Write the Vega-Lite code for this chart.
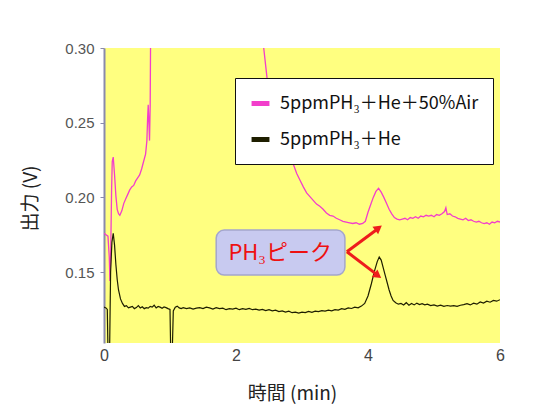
{
  "$schema": "https://vega.github.io/schema/vega-lite/v6.json",
  "width": 396,
  "height": 295,
  "autosize": "none",
  "padding": {"left": 104, "top": 48, "right": 49, "bottom": 71},
  "background": "white",
  "config": {
    "view": {"fill": "#ffff80", "stroke": null},
    "font": "Liberation Sans"
  },
  "datasets": {
    "air": [
      [0,0.176],[0.03,0.175],[0.06,0.174],[0.08,0.16],[0.09,0.144],[0.1,0.158],[0.115,0.205],[0.125,0.224],[0.14,0.227],[0.16,0.215],[0.18,0.201],[0.2,0.192],[0.22,0.189],[0.24,0.188],[0.27,0.191],[0.3,0.196],[0.33,0.199],[0.36,0.202],[0.39,0.205],[0.42,0.207],[0.45,0.208],[0.48,0.211],[0.51,0.213],[0.54,0.215],[0.57,0.219],[0.6,0.224],[0.63,0.229],[0.65,0.238],[0.66,0.252],[0.67,0.262],[0.68,0.25],[0.69,0.238],[0.7,0.262],[0.705,0.3],[0.71,0.33],[2.4,0.33],[2.42,0.3],[2.45,0.288],[2.47,0.28],[2.55,0.265],[2.65,0.25],[2.75,0.237],[2.82,0.229],[2.87,0.222],[2.92,0.216],[2.97,0.2115],[3.02,0.207],[3.07,0.203],[3.12,0.2005],[3.17,0.198],[3.22,0.1955],[3.27,0.194],[3.32,0.192],[3.37,0.1895],[3.42,0.188],[3.47,0.1875],[3.52,0.186],[3.57,0.185],[3.62,0.184],[3.67,0.1835],[3.72,0.183],[3.77,0.1825],[3.82,0.183],[3.87,0.182],[3.92,0.1825],[3.96,0.184],[4.0,0.19],[4.04,0.195],[4.08,0.2],[4.12,0.204],[4.16,0.206],[4.2,0.2035],[4.24,0.2],[4.28,0.196],[4.32,0.192],[4.36,0.189],[4.4,0.1865],[4.44,0.1855],[4.48,0.185],[4.52,0.1855],[4.56,0.186],[4.6,0.185],[4.64,0.1865],[4.68,0.186],[4.72,0.187],[4.76,0.186],[4.8,0.1875],[4.84,0.187],[4.88,0.188],[4.92,0.1875],[4.96,0.188],[5.0,0.187],[5.04,0.1885],[5.08,0.188],[5.12,0.189],[5.16,0.1905],[5.18,0.193],[5.2,0.1885],[5.24,0.189],[5.28,0.1875],[5.32,0.187],[5.36,0.186],[5.4,0.1855],[5.44,0.185],[5.48,0.186],[5.52,0.1845],[5.56,0.185],[5.6,0.184],[5.64,0.1835],[5.68,0.184],[5.72,0.183],[5.76,0.1825],[5.8,0.183],[5.84,0.182],[5.88,0.1835],[5.92,0.183],[5.96,0.184],[6.0,0.1835]
    ],
    "he": [
      [0,0.1265],[0.03,0.126],[0.05,0.125],[0.06,0.098],[0.085,0.098],[0.1,0.15],[0.12,0.17],[0.14,0.176],[0.16,0.168],[0.18,0.155],[0.2,0.145],[0.22,0.138],[0.25,0.132],[0.28,0.129],[0.31,0.127],[0.34,0.1275],[0.37,0.126],[0.4,0.1265],[0.43,0.127],[0.46,0.1255],[0.49,0.1262],[0.52,0.1275],[0.55,0.126],[0.58,0.1268],[0.61,0.1255],[0.64,0.1262],[0.67,0.1258],[0.7,0.127],[0.73,0.1265],[0.76,0.1278],[0.79,0.126],[0.82,0.127],[0.85,0.1265],[0.88,0.1258],[0.91,0.1266],[0.94,0.1262],[0.97,0.1255],[1.0,0.125],[1.01,0.098],[1.035,0.098],[1.05,0.124],[1.08,0.1265],[1.11,0.1272],[1.14,0.126],[1.17,0.1255],[1.2,0.1262],[1.25,0.1255],[1.3,0.126],[1.35,0.1252],[1.4,0.1258],[1.45,0.1262],[1.5,0.1255],[1.55,0.1265],[1.6,0.126],[1.65,0.1252],[1.7,0.1262],[1.75,0.1255],[1.8,0.1258],[1.85,0.1248],[1.9,0.1255],[1.95,0.1252],[2.0,0.1258],[2.05,0.1248],[2.1,0.1255],[2.15,0.125],[2.2,0.1256],[2.25,0.1248],[2.3,0.1252],[2.35,0.1245],[2.4,0.125],[2.45,0.1242],[2.5,0.1248],[2.55,0.124],[2.6,0.1245],[2.65,0.1235],[2.7,0.124],[2.75,0.1232],[2.8,0.1238],[2.85,0.1228],[2.9,0.1232],[2.95,0.1225],[3.0,0.1232],[3.05,0.1228],[3.1,0.1236],[3.15,0.123],[3.2,0.1238],[3.25,0.1235],[3.3,0.1242],[3.35,0.1238],[3.4,0.1245],[3.45,0.124],[3.5,0.1248],[3.55,0.1245],[3.6,0.1255],[3.65,0.125],[3.7,0.126],[3.75,0.1256],[3.8,0.1265],[3.85,0.126],[3.9,0.1272],[3.95,0.129],[4.0,0.134],[4.05,0.142],[4.1,0.151],[4.14,0.157],[4.17,0.16],[4.2,0.158],[4.23,0.153],[4.26,0.148],[4.29,0.143],[4.32,0.138],[4.35,0.134],[4.38,0.131],[4.42,0.1295],[4.46,0.1285],[4.5,0.129],[4.54,0.128],[4.58,0.1295],[4.62,0.1278],[4.66,0.129],[4.7,0.128],[4.74,0.1292],[4.78,0.1282],[4.82,0.1288],[4.86,0.128],[4.9,0.1285],[4.95,0.1275],[5.0,0.128],[5.05,0.1272],[5.1,0.1278],[5.15,0.127],[5.2,0.1276],[5.25,0.1272],[5.3,0.1275],[5.35,0.127],[5.4,0.1278],[5.45,0.1282],[5.5,0.1288],[5.55,0.128],[5.6,0.1292],[5.65,0.1285],[5.7,0.13],[5.75,0.1292],[5.8,0.1305],[5.85,0.1298],[5.9,0.131],[5.95,0.1305],[6.0,0.1315]
    ]
  },
  "layer": [
    {
      "data": {"name": "air"},
      "transform": [
        {"calculate": "datum[0]", "as": "time"},
        {"calculate": "datum[1]", "as": "value"},
        {"calculate": "'5ppmPH₃＋He＋50%Air'", "as": "series"}
      ],
      "mark": {"type": "line", "strokeWidth": 1.3, "clip": true},
      "encoding": {
        "x": {"field": "time", "type": "quantitative",
              "scale": {"domain": [0, 6], "nice": false},
              "axis": {"values": [0, 2, 4, 6], "format": "d", "labelFlush": false, "domain": false, "ticks": false, "grid": false,
                       "labelFontSize": 16, "labelColor": "#444", "labelPadding": 4,
                       "title": "時間 (min)", "titleFont": "Noto Sans CJK JP", "titleFontSize": 19,
                       "titleFontWeight": "normal", "titleColor": "#222",
                       "titleX": 188, "titleY": 50, "titleBaseline": "middle", "titleAlign": "center"}},
        "y": {"field": "value", "type": "quantitative",
              "scale": {"domain": [0.1025, 0.3], "nice": false, "zero": false},
              "axis": {"values": [0.15, 0.2, 0.25, 0.3], "format": ".2f", "grid": false, "labelFlush": false,
                       "domainColor": "#8a8aac", "domainWidth": 2, "tickColor": "#8a8aac", "tickSize": 4,
                       "labelFontSize": 15, "labelColor": "#555", "labelPadding": 6,
                       "title": "出力 (V)", "titleFont": "Noto Sans CJK JP", "titleFontSize": 19,
                       "titleFontWeight": "normal", "titleColor": "#222",
                       "titleX": -74, "titleY": 150, "titleBaseline": "middle", "titleAlign": "center"}},
        "color": {"field": "series", "type": "nominal",
                  "scale": {"domain": ["5ppmPH₃＋He＋50%Air", "5ppmPH₃＋He"], "range": ["#f23ecb", "#1e1e00"]},
                  "legend": {"orient": "none", "legendX": 131, "legendY": 30, "title": null,
                             "fillColor": "white", "strokeColor": "#111", "padding": 14,
                             "symbolType": "stroke", "symbolStrokeWidth": 5, "symbolSize": 320,
                             "labelFont": "Noto Sans CJK JP", "labelFontSize": 18, "labelColor": "#111",
                             "labelLimit": 400, "rowPadding": 14, "labelOffset": 8}}
      }
    },
    {
      "data": {"name": "he"},
      "transform": [
        {"calculate": "datum[0]", "as": "time"},
        {"calculate": "datum[1]", "as": "value"},
        {"calculate": "'5ppmPH₃＋He'", "as": "series"}
      ],
      "mark": {"type": "line", "strokeWidth": 1.2, "clip": true},
      "encoding": {
        "x": {"field": "time", "type": "quantitative"},
        "y": {"field": "value", "type": "quantitative"},
        "color": {"field": "series", "type": "nominal"}
      }
    },
    {
      "data": {"values": [{"x": 1.7, "x2": 3.65, "y": 0.1781, "y2": 0.148}]},
      "mark": {"type": "rect", "fill": "#c8caf0", "stroke": "#a4a6cc", "strokeWidth": 1.5, "cornerRadius": 8},
      "encoding": {
        "x": {"field": "x", "type": "quantitative"},
        "x2": {"field": "x2"},
        "y": {"field": "y", "type": "quantitative"},
        "y2": {"field": "y2"}
      }
    },
    {
      "data": {"values": [{"x": 2.67, "y": 0.163, "label": "PH₃ピーク"}]},
      "mark": {"type": "text", "font": "Noto Sans CJK JP", "fontSize": 22, "color": "#ee1111", "align": "center", "baseline": "middle"},
      "encoding": {
        "x": {"field": "x", "type": "quantitative"},
        "y": {"field": "y", "type": "quantitative"},
        "text": {"field": "label"}
      }
    },
    {
      "data": {"values": [{"x": 3.68, "y": 0.1636, "x2": 4.16, "y2": 0.1793}, {"x": 3.68, "y": 0.1636, "x2": 4.15, "y2": 0.1478}]},
      "mark": {"type": "rule", "color": "#ee1c1c", "strokeWidth": 3},
      "encoding": {
        "x": {"field": "x", "type": "quantitative"},
        "x2": {"field": "x2"},
        "y": {"field": "y", "type": "quantitative"},
        "y2": {"field": "y2"}
      }
    },
    {
      "data": {"values": [{"x": 4.16, "y": 0.1795}]},
      "mark": {"type": "point", "shape": "triangle-up", "filled": true, "color": "#ee1c1c", "size": 90, "angle": 53, "opacity": 1},
      "encoding": {
        "x": {"field": "x", "type": "quantitative"},
        "y": {"field": "y", "type": "quantitative"}
      }
    },
    {
      "data": {"values": [{"x": 4.15, "y": 0.1476}]},
      "mark": {"type": "point", "shape": "triangle-up", "filled": true, "color": "#ee1c1c", "size": 90, "angle": 127, "opacity": 1},
      "encoding": {
        "x": {"field": "x", "type": "quantitative"},
        "y": {"field": "y", "type": "quantitative"}
      }
    }
  ]
}
